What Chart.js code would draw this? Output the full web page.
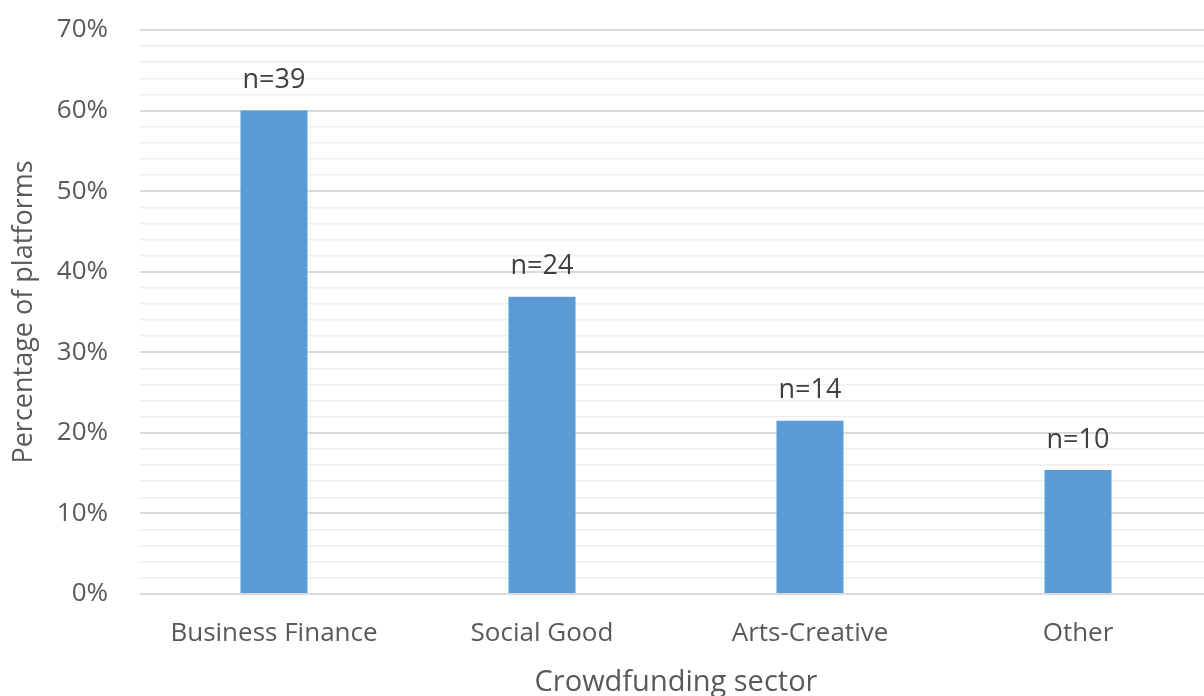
<!DOCTYPE html>
<html>
<head>
<meta charset="utf-8">
<script src="https://cdn.jsdelivr.net/npm/chart.js@4/dist/chart.umd.min.js"></script>
<style>
  html, body { margin: 0; padding: 0; background: #fff; overflow: hidden; }
  canvas { display: block; }
</style>
</head>
<body>
<canvas id="chart" width="1213" height="696"></canvas>
<script>
// data
const sectors = ["Business Finance", "Social Good", "Arts-Creative", "Other"];
const shares = [60, 36.9, 21.5, 15.4];   // percentage of platforms
const counts = [39, 24, 14, 10];

const FONT = "'Open Sans', 'Liberation Sans', sans-serif";
const TEXT = "#595959";

// "n=.." above each bar
const countLabels = {
  id: "countLabels",
  afterDatasetsDraw(chart) {
    const ctx = chart.ctx;
    const meta = chart.getDatasetMeta(0);
    ctx.save();
    ctx.font = "27px " + FONT;
    ctx.fillStyle = "#404040";
    ctx.textAlign = "center";
    ctx.textBaseline = "middle";
    meta.data.forEach((bar, i) => {
      ctx.fillText("n=" + counts[i], bar.x, bar.y - 30);
    });
    ctx.restore();
  }
};

new Chart(document.getElementById("chart").getContext("2d"), {
  type: "bar",
  data: {
    labels: sectors,
    datasets: [{
      data: shares,
      backgroundColor: "#5b9bd5",
      borderWidth: 0,
      barPercentage: 0.25,
      categoryPercentage: 1
    }]
  },
  options: {
    responsive: false,
    animation: false,
    layout: { padding: { top: 30, left: 0, right: 1, bottom: 0 } },
    plugins: { legend: { display: false }, tooltip: { enabled: false } },
    scales: {
      x: {
        grid: { display: false },
        border: { display: false },
        ticks: { color: TEXT, font: { family: FONT, size: 26 }, padding: 16, maxRotation: 0 },
        title: {
          display: true,
          text: "Crowdfunding sector",
          color: TEXT,
          font: { family: FONT, size: 29, lineHeight: 0.9 },
          padding: 0
        },
        afterFit(scale) { scale.height = 102; }
      },
      y: {
        min: 0,
        max: 70,
        border: { display: false },
        grid: {
          drawTicks: false,
          color: (c) => (c.tick && c.tick.value % 10 === 0) ? "#d9d9d9" : "#eeeeee",
          lineWidth: (c) => (c.tick && c.tick.value % 10 === 0) ? 2 : 1.5
        },
        ticks: {
          stepSize: 2,
          autoSkip: false,
          padding: 32,
          color: TEXT,
          font: { family: FONT, size: 26 },
          callback: (v) => v % 10 === 0 ? v + "%" : ""
        },
        title: {
          display: true,
          text: "Percentage of platforms",
          color: TEXT,
          font: { family: FONT, size: 27, lineHeight: 1.2 },
          padding: { top: 8, bottom: 0 }
        },
        afterFit(scale) {
          scale.width = 140;
          scale.paddingTop = 0;
          scale.paddingBottom = 0;
        }
      }
    }
  },
  plugins: [countLabels]
});
</script>
</body>
</html>
